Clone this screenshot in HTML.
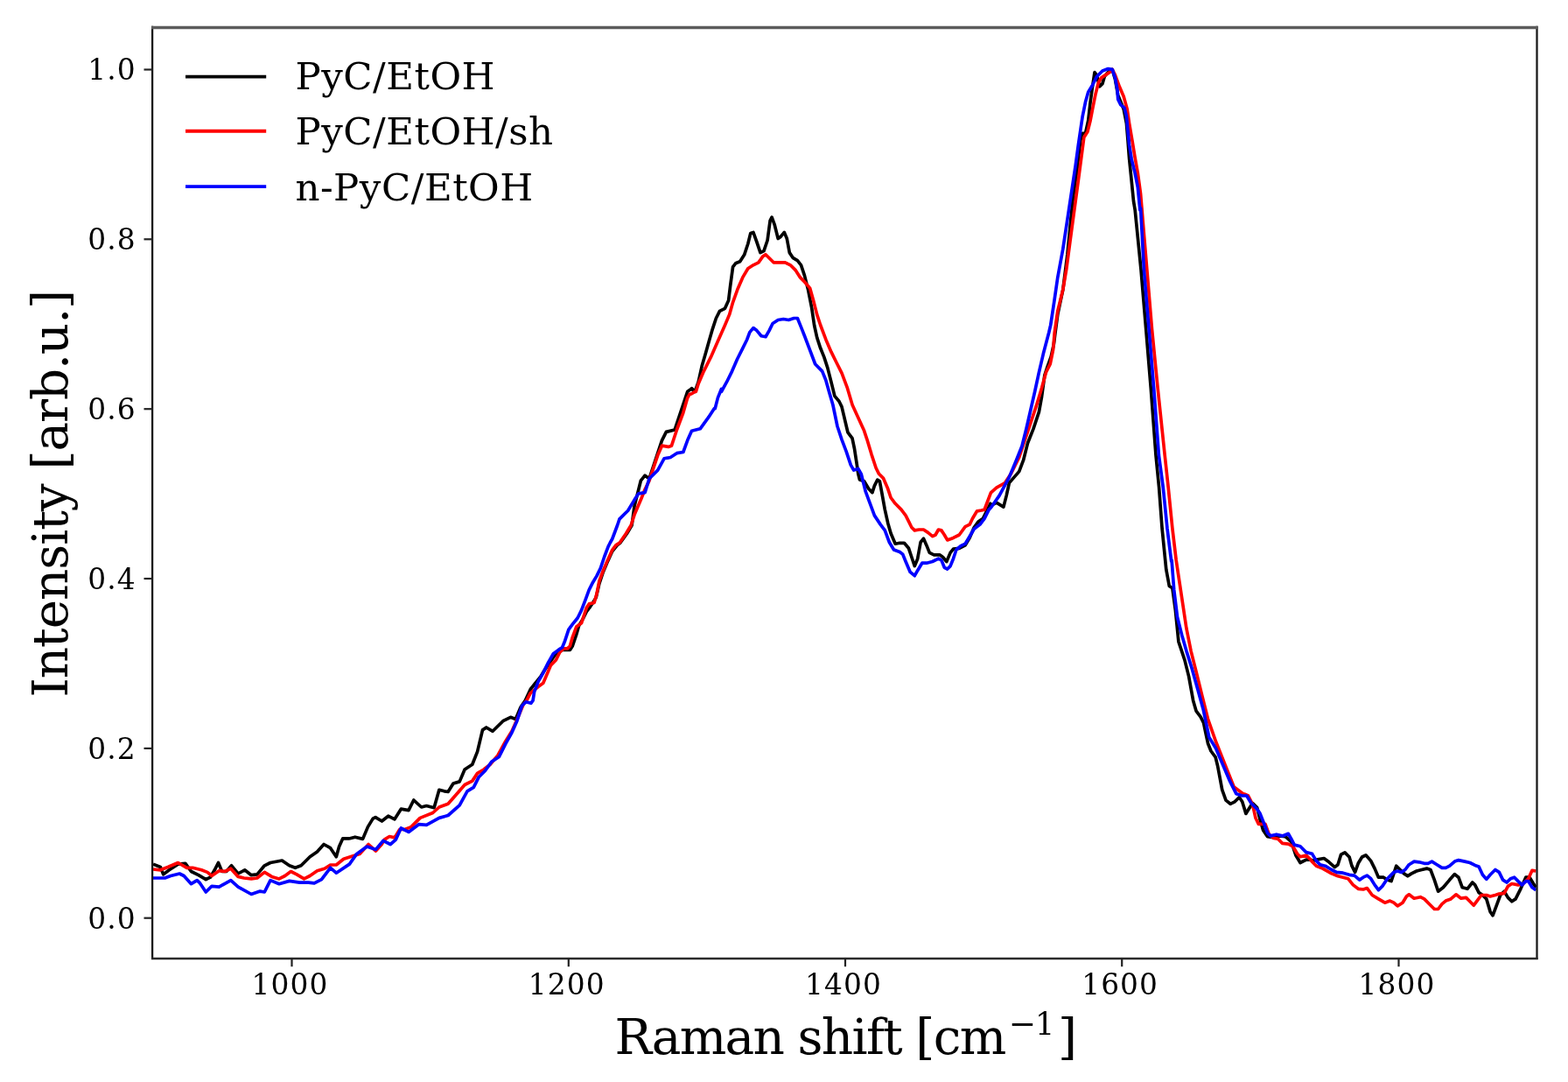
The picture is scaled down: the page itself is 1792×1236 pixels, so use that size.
<!DOCTYPE html>
<html><head><meta charset="utf-8"><title>Raman spectra</title>
<style>
html,body{margin:0;padding:0;background:#fff;overflow:hidden;}
svg{display:block;}
text{font-family:'DejaVu Serif', 'Liberation Serif', serif;fill:#000;}
.tk{font-size:32.8px;letter-spacing:1.1px;}
.lab{font-size:56.5px;}
.xl{letter-spacing:-1.7px;}
.yl{letter-spacing:-1.1px;}
.sup{font-size:37.5px;}
.sup1{font-size:35px;}
.lg{font-size:43.5px;letter-spacing:0.5px;}
</style></head><body>
<svg width="1792" height="1236" viewBox="0 0 1792 1236">
<rect x="0" y="0" width="1792" height="1236" fill="#fff"/>
<polyline fill="none" stroke="#000" stroke-width="3.7" stroke-linejoin="round" stroke-linecap="butt" points="175.0,987.1 183.4,990.5 186.7,998.9 193.4,993.8 203.5,987.1 211.9,986.3 218.5,995.5 226.9,999.7 235.3,1004.7 240.3,1002.2 245.3,993.8 249.5,985.5 253.7,995.5 258.7,995.5 264.6,988.8 272.1,998.0 279.7,993.8 287.2,999.7 293.9,998.9 302.3,988.8 309.0,985.5 322.3,983.0 330.7,988.8 337.4,991.3 344.1,988.8 354.2,978.8 362.5,972.9 370.1,964.5 377.6,968.7 384.3,978.8 387.6,967.1 391.8,957.8 399.4,957.8 400.0,957.7 405.8,956.2 414.6,958.4 420.4,944.6 426.2,935.1 429.1,933.6 436.4,938.0 443.7,932.2 451.0,935.8 458.3,924.2 467.0,925.6 472.8,914.0 481.6,922.0 487.4,920.5 496.1,922.7 501.9,902.3 507.8,903.8 512.1,904.5 518.0,895.0 525.2,892.9 531.1,879.0 539.8,873.2 545.6,858.6 551.5,833.9 555.8,831.0 563.1,835.3 574.8,823.7 583.5,819.3 589.3,821.5 595.1,807.7 600.4,800.1 606.2,787.5 612.0,780.2 617.9,773.0 622.2,765.7 628.1,756.9 635.4,746.7 641.2,742.4 647.0,742.4 651.4,742.4 654.3,738.0 658.7,724.9 661.6,714.7 666.0,707.4 670.3,698.7 674.7,692.8 677.6,688.5 681.2,682.6 684.9,666.6 689.3,653.5 693.6,643.3 699.5,630.2 705.3,622.9 708.9,620.0 716.3,609.7 722.1,600.0 725.0,578.4 732.3,549.2 737.1,543.2 742.0,546.8 756.5,503.1 761.4,493.4 771.1,491.0 785.7,447.3 790.1,444.3 790.5,443.6 794.2,447.4 798.2,436.2 802.2,418.1 806.3,403.9 810.3,389.7 814.4,375.6 818.4,363.5 822.5,355.4 828.5,352.3 832.6,343.2 834.6,327.1 837.6,304.8 840.7,300.8 845.7,298.8 850.8,290.7 854.8,278.5 857.8,266.4 860.9,265.4 864.9,276.5 869.0,288.6 873.0,286.6 877.1,274.5 880.1,252.2 882.1,248.2 885.1,256.3 889.2,272.5 892.2,270.4 896.3,265.4 899.3,272.5 902.3,288.6 906.4,294.7 911.4,297.7 915.5,302.8 919.5,314.9 923.6,331.1 927.6,351.3 930.6,371.5 933.7,385.7 937.7,397.8 941.8,407.9 945.8,420.1 949.9,436.2 953.9,452.4 959.0,458.5 962.0,464.6 968.9,493.8 974.0,500.6 976.5,512.5 979.1,529.4 980.8,541.3 982.5,548.1 987.6,549.8 992.7,558.3 996.9,562.6 999.4,554.9 1002.8,548.1 1005.4,549.8 1007.9,563.4 1011.3,582.1 1014.7,597.4 1018.1,609.3 1023.2,621.2 1028.3,620.3 1033.4,620.3 1038.5,626.3 1041.9,636.5 1045.3,646.6 1048.7,638.2 1052.1,619.5 1055.5,615.2 1058.9,622.9 1062.3,631.4 1067.4,633.9 1074.2,633.9 1077.6,636.5 1081.8,641.5 1086.1,631.4 1089.5,627.1 1096.3,626.3 1103.1,622.9 1108.2,614.4 1113.2,602.5 1118.3,595.7 1123.4,592.3 1128.5,582.1 1131.9,575.3 1132.4,577.5 1138.8,574.2 1146.9,579.1 1150.2,566.1 1153.4,551.6 1164.7,538.6 1169.6,525.7 1174.5,506.2 1180.9,490.1 1187.4,470.6 1190.6,452.8 1193.9,428.6 1197.1,418.8 1201.2,407.5 1204.4,392.9 1206.0,380.0 1208.8,359.2 1214.8,330.9 1219.9,290.5 1225.9,229.9 1230.8,194.3 1234.8,160.3 1237.2,152.3 1240.5,152.3 1243.7,137.7 1246.1,116.6 1248.6,98.8 1251.0,82.7 1253.4,85.9 1256.6,98.8 1259.9,95.6 1262.3,87.5 1264.7,84.3 1268.0,81.0 1271.2,79.4 1274.5,90.8 1277.7,108.6 1284.2,124.7 1287.4,140.9 1289.0,160.3 1290.6,181.4 1293.1,205.7 1295.5,229.9 1297.2,240.0 1304.0,308.0 1309.7,376.0 1315.3,443.9 1321.0,520.1 1324.6,556.9 1328.1,603.8 1332.8,650.7 1336.3,669.5 1339.9,671.8 1343.4,697.6 1346.9,732.8 1353.9,753.9 1358.6,772.6 1363.6,800.2 1367.0,812.1 1372.1,818.9 1375.5,825.7 1378.0,837.6 1380.6,849.5 1384.0,858.0 1389.1,864.8 1391.6,875.0 1394.2,888.6 1396.7,902.2 1401.0,914.1 1406.1,918.3 1411.2,915.8 1416.3,910.7 1419.7,915.8 1423.9,929.4 1428.2,922.6 1431.6,917.5 1436.7,922.6 1440.1,936.2 1443.5,948.1 1448.6,955.7 1455.4,956.6 1462.2,954.9 1469.0,955.7 1475.8,961.7 1480.9,977.0 1486.0,985.5 1492.8,982.1 1497.9,982.1 1500.0,983.4 1505.8,981.9 1513.1,980.5 1518.9,984.8 1525.4,990.6 1529.0,987.7 1532.6,976.1 1537.0,973.9 1542.1,979.0 1545.0,989.2 1548.6,996.4 1552.2,986.3 1556.6,979.0 1560.9,976.8 1566.7,983.4 1571.1,992.1 1575.4,1002.2 1581.2,1002.2 1585.6,1005.1 1590.0,1006.6 1592.9,997.9 1595.8,989.2 1600.1,993.5 1604.5,997.9 1608.8,1000.8 1613.2,997.9 1619.0,995.0 1624.8,993.5 1630.6,992.1 1634.9,993.5 1639.3,1005.1 1643.6,1018.2 1649.4,1013.8 1656.7,1005.1 1662.5,998.6 1666.9,1002.2 1671.2,1013.8 1677.0,1015.3 1682.8,1008.0 1685.7,1010.9 1690.1,1019.6 1694.4,1022.5 1698.8,1026.9 1703.1,1041.4 1706.0,1045.8 1710.4,1034.2 1714.7,1022.5 1719.1,1018.2 1723.4,1025.4 1727.8,1029.8 1732.1,1026.9 1737.9,1015.3 1743.8,1002.2 1748.1,1002.2 1752.5,1009.5 1755.4,1013.8"/>
<polyline fill="none" stroke="#f00" stroke-width="3.7" stroke-linejoin="round" stroke-linecap="butt" points="175.0,993.0 183.4,993.8 191.8,990.5 203.5,985.5 213.5,991.3 220.2,991.3 230.3,993.8 237.0,996.4 242.0,1000.5 250.4,994.7 257.1,995.5 263.8,992.2 272.1,1001.4 278.8,1003.0 287.2,1003.9 293.9,1003.0 302.3,996.4 310.6,1001.4 319.0,1003.9 325.7,1000.5 332.4,995.5 339.1,998.9 347.5,1003.9 354.2,1000.5 362.5,994.7 370.9,992.2 377.6,988.0 384.3,988.0 392.7,981.3 402.7,977.9 411.1,975.4 421.1,964.5 429.5,972.1 436.2,964.5 439.3,959.1 445.1,955.5 451.0,956.9 456.8,947.5 462.6,947.5 469.9,944.6 480.1,934.4 494.7,928.5 501.9,922.0 512.1,918.3 520.9,908.2 531.1,896.5 539.8,892.1 545.6,883.4 552.9,879.0 560.2,873.2 568.9,863.0 577.7,847.0 585.0,835.3 590.8,822.2 598.1,804.8 601.9,800.1 606.2,791.9 615.0,784.6 620.8,780.2 625.2,770.1 629.5,759.9 635.4,754.0 639.7,745.3 644.1,740.9 648.5,740.9 651.4,738.0 654.3,727.8 658.7,716.1 664.5,711.8 667.4,703.0 670.3,694.3 673.2,689.9 679.1,688.5 682.0,678.3 684.9,663.7 689.3,652.0 693.6,641.9 699.5,628.7 703.8,622.9 708.2,620.0 715.3,609.7 721.2,600.0 725.0,588.1 732.3,571.1 737.1,559.0 742.0,549.2 746.8,534.7 751.7,520.1 756.5,509.2 763.8,510.4 767.5,509.2 773.5,491.0 780.8,471.6 785.7,454.6 788.1,450.4 790.5,449.7 794.2,447.4 795.4,447.3 798.2,438.3 804.3,424.1 812.4,407.9 820.4,389.7 828.5,371.5 833.6,359.4 837.6,345.3 842.7,331.1 848.8,316.9 854.8,306.8 860.9,302.8 866.9,299.8 872.0,292.7 875.0,290.7 879.1,294.7 884.1,299.8 890.2,299.8 897.3,299.8 903.3,302.8 909.4,308.9 914.5,316.9 919.5,322.0 925.6,329.1 929.6,343.2 933.7,359.4 937.7,371.5 943.8,387.7 949.9,401.9 955.9,414.0 962.0,426.1 968.1,442.3 974.1,462.5 987.6,492.1 991.0,502.3 996.1,519.3 1001.1,534.5 1004.5,541.3 1009.6,546.4 1014.7,558.3 1018.1,568.5 1023.2,575.3 1030.0,582.1 1035.1,588.9 1038.5,595.7 1041.9,602.5 1045.3,605.9 1050.4,605.0 1055.5,605.0 1060.6,608.4 1065.7,612.7 1069.1,611.0 1072.5,605.0 1075.9,605.9 1079.3,611.0 1082.7,616.9 1089.5,614.4 1096.3,611.0 1103.1,601.6 1108.2,599.1 1111.5,592.3 1116.6,583.8 1121.7,583.0 1125.1,582.1 1125.9,580.0 1132.4,562.9 1138.8,557.2 1148.6,551.6 1155.0,541.8 1164.7,522.4 1171.2,503.0 1177.7,483.6 1184.2,464.2 1190.6,443.1 1195.5,425.3 1200.3,415.6 1203.6,399.4 1205.2,380.0 1208.8,355.2 1214.8,330.9 1218.9,306.6 1222.9,276.3 1232.4,205.7 1235.6,181.4 1238.8,157.1 1242.9,150.6 1246.1,137.7 1248.6,124.7 1251.8,108.6 1255.0,95.6 1258.3,89.1 1263.1,85.9 1268.0,82.7 1271.2,79.4 1274.5,85.9 1279.3,98.8 1284.2,110.2 1288.2,124.7 1290.6,140.9 1293.9,160.3 1297.1,179.8 1300.3,197.6 1303.6,221.8 1305.1,240.0 1310.8,308.0 1316.5,376.0 1323.2,443.9 1331.2,520.1 1335.2,556.9 1339.9,603.8 1344.2,640.0 1348.1,665.9 1352.0,691.8 1355.9,717.7 1361.1,743.6 1367.6,769.5 1374.0,795.4 1380.5,821.3 1389.6,847.3 1399.9,873.2 1410.3,899.1 1420.7,906.8 1423.1,907.3 1426.5,909.0 1431.6,919.2 1435.0,934.5 1438.4,941.3 1446.0,941.3 1450.3,953.2 1455.4,957.4 1460.5,958.3 1465.6,963.4 1472.4,964.2 1477.5,966.8 1482.6,975.3 1486.0,978.7 1492.8,977.0 1497.9,982.1 1500.0,984.8 1504.4,989.2 1511.6,992.1 1521.8,997.9 1529.0,1000.8 1534.8,1002.2 1540.6,1003.7 1546.4,1010.9 1552.2,1015.3 1558.0,1016.0 1562.4,1014.6 1568.2,1022.5 1575.4,1026.9 1582.7,1031.2 1588.5,1029.1 1592.9,1031.2 1597.2,1034.9 1603.0,1031.2 1607.4,1024.0 1610.3,1021.8 1616.1,1026.2 1623.3,1024.7 1627.7,1026.9 1633.5,1032.7 1639.3,1038.5 1643.6,1038.5 1648.0,1032.7 1652.3,1029.1 1658.1,1026.9 1664.0,1021.8 1669.8,1026.2 1675.6,1025.4 1679.9,1029.8 1684.3,1034.2 1688.6,1028.3 1693.0,1022.5 1698.8,1022.5 1703.1,1024.0 1708.9,1022.5 1713.3,1021.1 1719.1,1020.4 1723.4,1012.4 1727.8,1009.5 1735.0,1010.9 1740.8,1009.5 1746.7,1003.7 1751.0,994.3 1755.4,995.0"/>
<polyline fill="none" stroke="#00f" stroke-width="3.7" stroke-linejoin="round" stroke-linecap="butt" points="175.0,1003.0 188.4,1003.0 195.1,1000.5 205.2,998.0 210.2,1000.5 218.5,1009.7 225.2,1005.6 228.6,1008.9 235.3,1019.0 242.0,1012.3 250.4,1013.1 263.8,1005.6 272.1,1013.1 287.2,1021.5 297.2,1018.1 302.3,1019.0 309.0,1005.6 319.0,1009.7 330.7,1006.4 342.4,1008.1 352.5,1008.1 359.2,1008.9 367.5,1004.7 377.6,991.3 384.3,997.2 399.4,987.1 407.7,975.4 419.4,967.1 429.5,970.4 437.9,960.4 446.2,964.5 452.4,959.1 458.3,946.0 467.0,950.4 478.6,941.7 487.4,942.4 501.9,934.4 512.1,931.5 525.2,919.8 534.0,903.8 541.3,899.4 547.1,887.8 554.4,880.5 561.7,870.3 570.4,864.5 577.7,849.9 585.0,836.8 590.8,823.7 596.6,806.2 601.0,801.8 606.8,803.3 609.1,800.1 610.6,790.4 615.0,778.8 620.8,768.6 626.6,756.9 632.4,746.7 638.3,742.4 642.6,739.5 645.6,732.2 649.9,719.1 654.3,713.2 660.1,706.0 664.5,697.2 668.9,685.6 673.2,673.9 677.6,665.2 682.0,657.9 686.3,649.1 690.7,636.0 695.1,624.4 697.3,620.0 699.8,615.5 705.6,600.0 708.0,592.9 717.7,583.2 725.0,571.1 729.8,563.8 737.1,562.6 742.0,546.8 751.7,537.1 759.0,523.8 766.2,522.5 773.5,517.7 780.8,516.5 785.7,503.1 790.5,492.2 800.2,489.8 808.3,478.7 809.9,476.4 816.4,466.6 817.2,466.7 820.4,454.4 824.5,444.3 824.5,447.3 830.6,436.2 836.6,424.1 842.7,410.0 848.8,397.8 853.8,387.7 856.8,379.6 860.9,374.6 864.9,377.6 870.0,383.7 875.0,384.7 879.1,377.6 883.1,369.5 889.2,365.5 895.3,364.5 901.3,365.5 907.4,363.5 911.4,363.5 915.5,373.6 919.5,383.7 925.6,399.9 931.7,416.0 939.7,424.1 943.8,434.2 947.8,448.4 951.9,462.5 957.0,487.0 962.1,502.3 967.2,515.9 972.3,531.1 975.7,537.1 980.8,535.4 984.2,541.3 989.3,561.7 994.4,575.3 999.4,588.9 1006.2,599.1 1011.3,605.9 1016.4,619.5 1021.5,628.0 1028.3,630.5 1031.7,633.1 1035.1,641.5 1040.2,653.4 1045.3,657.7 1048.7,651.7 1053.8,643.2 1058.9,643.2 1065.7,641.5 1072.5,638.2 1075.9,639.9 1079.3,648.3 1082.7,650.0 1086.1,646.6 1089.5,638.2 1092.9,628.0 1098.0,623.7 1103.1,621.2 1108.2,612.7 1113.2,604.2 1120.0,599.1 1125.1,592.3 1130.2,582.1 1132.4,580.0 1142.1,566.1 1153.4,545.1 1161.5,525.7 1168.0,509.5 1172.8,490.1 1177.7,469.0 1182.5,448.0 1187.4,425.3 1192.3,404.3 1198.7,380.0 1200.7,371.4 1204.7,345.1 1208.8,316.8 1214.8,284.4 1229.1,189.5 1232.4,165.2 1234.8,149.0 1237.2,132.8 1240.5,116.6 1243.7,105.3 1248.6,97.2 1253.4,87.5 1259.9,81.0 1266.4,78.6 1271.2,79.4 1274.5,89.1 1276.9,102.1 1277.7,113.4 1280.9,119.9 1285.0,123.1 1287.4,132.8 1289.0,149.0 1290.6,165.2 1293.1,181.4 1297.1,197.6 1300.3,213.8 1302.9,240.0 1303.6,238.0 1307.4,308.0 1313.1,376.0 1318.7,443.9 1324.4,520.1 1329.3,556.9 1334.0,603.8 1338.7,641.3 1339.1,640.0 1341.7,673.7 1345.5,704.8 1350.7,725.5 1355.9,743.6 1362.4,764.4 1368.9,787.7 1375.3,811.0 1381.8,842.1 1389.6,855.0 1397.4,873.2 1405.1,891.3 1412.9,906.8 1419.7,909.0 1424.8,909.0 1429.9,917.5 1436.7,924.3 1440.1,929.4 1443.5,937.9 1448.6,951.5 1452.0,954.9 1458.8,953.2 1465.6,954.9 1472.4,952.3 1475.8,958.3 1479.2,965.1 1486.0,966.8 1492.8,973.6 1499.6,975.3 1500.0,976.1 1504.4,983.4 1508.7,987.7 1514.5,989.2 1521.8,993.5 1527.6,996.4 1534.8,997.2 1542.1,999.3 1547.9,1000.1 1553.7,1005.1 1558.0,1002.2 1562.4,1000.1 1566.7,1003.7 1571.1,1010.9 1575.4,1016.7 1579.8,1012.4 1585.6,1003.7 1592.9,996.4 1597.2,995.0 1601.6,996.4 1605.9,993.5 1610.3,987.7 1616.1,984.1 1621.9,984.8 1627.7,986.3 1632.0,986.3 1636.4,984.1 1642.2,987.7 1648.0,991.4 1652.3,991.4 1656.7,989.2 1662.5,984.1 1666.9,982.6 1674.1,984.1 1679.9,985.5 1685.7,988.4 1690.1,989.9 1694.4,999.3 1698.8,1004.4 1703.1,999.3 1708.9,993.5 1713.3,996.4 1717.6,1005.1 1722.0,1008.0 1726.3,1003.7 1730.7,1002.2 1735.0,1006.6 1739.4,1010.9 1743.8,1006.6 1746.7,1006.6 1751.0,1013.8 1755.4,1016.7"/>
<line x1="174.1" y1="1096.1" x2="174.1" y2="29.7" stroke="#1a1a1a" stroke-width="2.3"/>
<line x1="1756.5" y1="1096.1" x2="1756.5" y2="29.7" stroke="#1a1a1a" stroke-width="2.3"/>
<line x1="173.0" y1="31.5" x2="1757.6" y2="31.5" stroke="#5c5c5c" stroke-width="3.6"/>
<line x1="173.0" y1="1095" x2="1757.6" y2="1095" stroke="#2a2a2a" stroke-width="2.4"/>
<line x1="333.5" y1="1094.5" x2="333.5" y2="1104.2" stroke="#222" stroke-width="2.2"/>
<text x="287.5" y="1136.3" class="tk">1000</text>
<line x1="649.8" y1="1094.5" x2="649.8" y2="1104.2" stroke="#222" stroke-width="2.2"/>
<text x="603.8" y="1136.3" class="tk">1200</text>
<line x1="966.0" y1="1094.5" x2="966.0" y2="1104.2" stroke="#222" stroke-width="2.2"/>
<text x="920.0" y="1136.3" class="tk">1400</text>
<line x1="1282.2" y1="1094.5" x2="1282.2" y2="1104.2" stroke="#222" stroke-width="2.2"/>
<text x="1236.2" y="1136.3" class="tk">1600</text>
<line x1="1598.5" y1="1094.5" x2="1598.5" y2="1104.2" stroke="#222" stroke-width="2.2"/>
<text x="1552.5" y="1136.3" class="tk">1800</text>
<line x1="164.5" y1="1048.7" x2="174.0" y2="1048.7" stroke="#222" stroke-width="2.2"/>
<text x="155.8" y="1060.5" text-anchor="end" class="tk">0.0</text>
<line x1="164.5" y1="854.9" x2="174.0" y2="854.9" stroke="#222" stroke-width="2.2"/>
<text x="155.8" y="866.7" text-anchor="end" class="tk">0.2</text>
<line x1="164.5" y1="661.0" x2="174.0" y2="661.0" stroke="#222" stroke-width="2.2"/>
<text x="155.8" y="672.8" text-anchor="end" class="tk">0.4</text>
<line x1="164.5" y1="467.2" x2="174.0" y2="467.2" stroke="#222" stroke-width="2.2"/>
<text x="155.8" y="479.0" text-anchor="end" class="tk">0.6</text>
<line x1="164.5" y1="273.3" x2="174.0" y2="273.3" stroke="#222" stroke-width="2.2"/>
<text x="155.8" y="285.1" text-anchor="end" class="tk">0.8</text>
<line x1="164.5" y1="79.5" x2="174.0" y2="79.5" stroke="#222" stroke-width="2.2"/>
<text x="155.8" y="91.3" text-anchor="end" class="tk">1.0</text>
<text x="702.6" y="1204" class="lab xl">Raman shift [cm<tspan class="sup" x="1152.8" y="1181.9">−</tspan><tspan class="sup1" x="1183" y="1182.1">1</tspan><tspan x="1209" y="1204">]</tspan></text>
<text transform="translate(77.3,796.4) rotate(-90)" x="0" y="0" class="lab yl">Intensity [arb.u.]</text>
<line x1="212" y1="87.6" x2="304.2" y2="87.6" stroke="#000" stroke-width="3.9"/>
<text x="337.4" y="101.6" class="lg">PyC/EtOH</text>
<line x1="212" y1="149.8" x2="304.2" y2="149.8" stroke="#f00" stroke-width="3.9"/>
<text x="337.4" y="165.4" class="lg">PyC/EtOH/sh</text>
<line x1="212" y1="213.1" x2="304.2" y2="213.1" stroke="#00f" stroke-width="3.9"/>
<text x="337.4" y="229.3" class="lg">n-PyC/EtOH</text>
</svg>
</body></html>
